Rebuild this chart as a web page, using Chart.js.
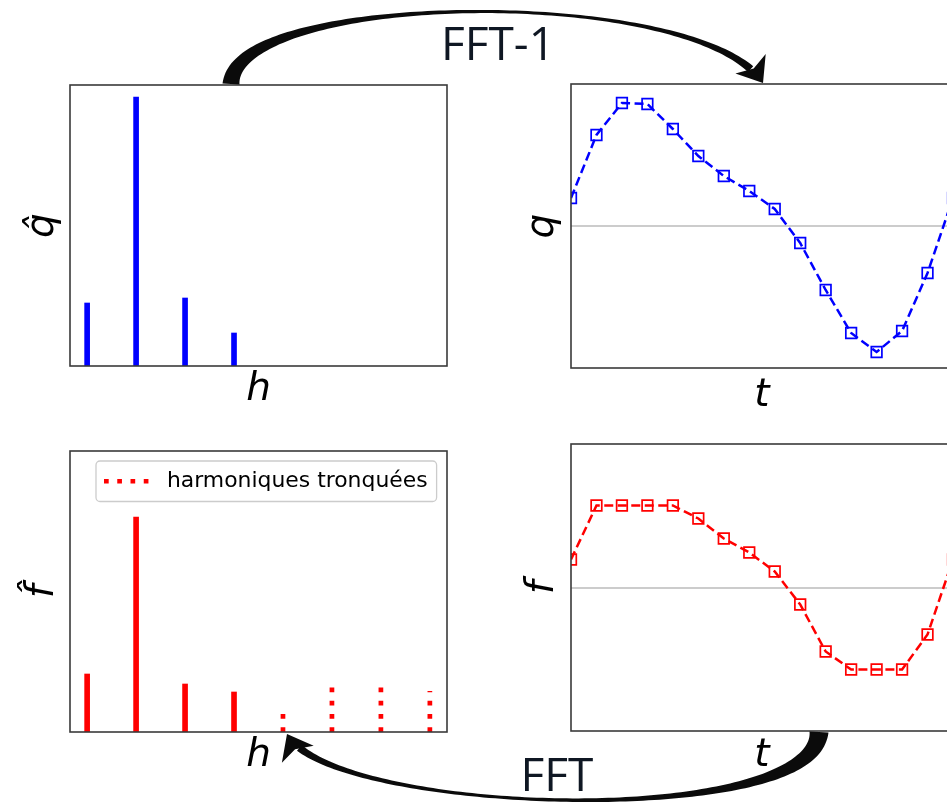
<!DOCTYPE html>
<html>
<head>
<meta charset="utf-8">
<title>FFT / FFT-1</title>
<script src="https://cdn.jsdelivr.net/npm/chart.js@4.4.1/dist/chart.umd.min.js"></script>
<style>
    html, body { margin: 0; padding: 0; background: #fff; overflow: hidden; }
    #stage { position: relative; width: 947px; height: 804px; overflow: hidden; }
    #stage canvas { position: absolute; left: 0; top: 0; }
</style>
</head>
<body>
<div id="stage">
    <canvas id="qhatChart" width="1000" height="804"></canvas>
    <canvas id="qChart" width="1000" height="804"></canvas>
    <canvas id="fhatChart" width="1000" height="804"></canvas>
    <canvas id="fChart" width="1000" height="804"></canvas>
</div>
<script>
// ========== DATA ==========
const harmonics = [0, 1, 2, 3, 4, 5, 6, 7];
const qHat = [0.63, 2.69, 0.68, 0.33];          // harmonics 0..3
const fHatKept = [0.58, 2.15, 0.48, 0.40];      // harmonics 0..3
const fHatTrunc = [0.18, 0.45, 0.45, 0.41];     // harmonics 4..7 (tronquées)
const timeSteps = [0, 1, 2, 3, 4, 5, 6, 7, 8, 9, 10, 11, 12, 13, 14, 15];
const qSignal = [0.28, 0.91, 1.23, 1.22, 0.97, 0.70, 0.50, 0.35, 0.17, -0.17, -0.64, -1.07, -1.26, -1.05, -0.47, 0.28];
const fSignal = [0.28, 0.82, 0.82, 0.82, 0.82, 0.69, 0.49, 0.35, 0.16, -0.17, -0.64, -0.82, -0.82, -0.82, -0.47, 0.28];

const specRange = [0, 2.81];
const hRange = [-0.35, 7.35];
const tRange = [0, 15];

// ========== LAYOUT ==========
const CW = 1000, CH = 804;
const TITLE_SIZE = 39, TITLE_LH = TITLE_SIZE * 1.2;

const boxes = {
    qhat: { l: 70, t: 85, r: 447, b: 366, ycx: 43, xcy: 390 },
    q:    { l: 571, t: 84, r: 953, b: 368, ycx: 543, xcy: 396 },
    fhat: { l: 70, t: 451, r: 447, b: 732, ycx: 43, xcy: 756 },
    f:    { l: 571, t: 444, r: 953, b: 731, ycx: 543, xcy: 756 }
};

function axisTitle(text) {
    return {
        display: true, text, color: "#000", padding: 0,
        font: { family: "DejaVu Sans", style: "italic", size: TITLE_SIZE, lineHeight: 1.2 }
    };
}

function padding(box) {
    return {
        left: box.ycx - TITLE_LH / 2,
        top: box.t,
        right: CW - box.r,
        bottom: CH - box.xcy - TITLE_LH / 2
    };
}

function scales(box, xRange, yRange, xLabel, yLabel, zeroLine) {
    return {
        x: {
            type: "linear", min: xRange[0], max: xRange[1], offset: false,
            ticks: { display: false },
            grid: { display: false, drawTicks: false },
            border: { display: false },
            title: axisTitle(xLabel),
            afterFit: s => { s.height = box.xcy - box.b + TITLE_LH / 2; }
        },
        y: {
            type: "linear", min: yRange[0], max: yRange[1],
            ticks: { display: false },
            grid: zeroLine
                ? { display: true, color: "#cccccc", lineWidth: 2, drawTicks: false }
                : { display: false, drawTicks: false },
            border: { display: false },
            title: axisTitle(yLabel),
            afterBuildTicks: s => { if (zeroLine) s.ticks = [{ value: 0 }]; },
            afterFit: s => { s.width = box.l - (box.ycx - TITLE_LH / 2); }
        }
    };
}

const framePlugin = {
    id: "frame",
    afterDatasetsDraw(chart) {
        const { ctx, chartArea: a } = chart;
        ctx.save();
        ctx.strokeStyle = "#3a3a3a";
        ctx.lineWidth = 1.6;
        ctx.strokeRect(a.left, a.top, a.right - a.left, a.bottom - a.top);
        ctx.restore();
    }
};

const baseOptions = {
    responsive: false,
    animation: false,
    devicePixelRatio: 1,
    events: []
};

// ========== SPECTRE q ==========
new Chart(document.getElementById("qhatChart"), {
    type: "bar",
    data: {
        datasets: [{
            data: qHat.map((v, i) => ({ x: harmonics[i], y: v })),
            backgroundColor: "#0000ff",
            barThickness: 5
        }]
    },
    options: {
        ...baseOptions,
        layout: { padding: padding(boxes.qhat) },
        plugins: { legend: { display: false }, tooltip: { enabled: false } },
        scales: scales(boxes.qhat, hRange, specRange, "h", "q\u0302", false)
    },
    plugins: [framePlugin]
});

// ========== SIGNAL q ==========
new Chart(document.getElementById("qChart"), {
    type: "line",
    data: {
        datasets: [{
            data: qSignal.map((v, i) => ({ x: timeSteps[i], y: v })),
            borderColor: "#0000ff",
            borderWidth: 2.5,
            borderDash: [9, 4.5],
            tension: 0,
            pointStyle: "rect",
            pointRadius: 7.5,
            pointBorderWidth: 1.7,
            pointBorderColor: "#0000ff",
            pointBackgroundColor: "rgba(0,0,0,0)"
        }]
    },
    options: {
        ...baseOptions,
        layout: { padding: padding(boxes.q) },
        plugins: { legend: { display: false }, tooltip: { enabled: false } },
        scales: scales(boxes.q, tRange, [-1.42, 1.42], "t", "q", true)
    },
    plugins: [framePlugin]
});

// ========== SPECTRE f ==========
const truncPoints = [];
fHatTrunc.forEach((v, i) => {
    const h = harmonics[i + 4];
    truncPoints.push({ x: h, y: 0 }, { x: h, y: v }, { x: h, y: null });
});

// legend sits inside the axes, upper right, with a matplotlib-like frame
const legendFramePlugin = {
    id: "legendFrame",
    afterLayout(chart) {
        const lg = chart.legend, a = chart.chartArea;
        lg.left = a.left + 14.7;
        lg.right = a.right;
        lg.top = a.top;
        lg.bottom = a.bottom;
    },
    beforeDraw(chart) {
        const hb = chart.legend.legendHitBoxes[0];
        if (!hb) return;
        const { ctx } = chart;
        ctx.save();
        ctx.beginPath();
        ctx.roundRect(hb.left - 8, hb.top - 9.3, hb.width + 17, hb.height + 18.6, 4);
        ctx.fillStyle = "rgba(255,255,255,0.8)";
        ctx.fill();
        ctx.strokeStyle = "#cccccc";
        ctx.lineWidth = 1.3;
        ctx.stroke();
        ctx.restore();
    }
};

new Chart(document.getElementById("fhatChart"), {
    type: "bar",
    data: {
        datasets: [
            {
                data: fHatKept.map((v, i) => ({ x: harmonics[i], y: v })),
                backgroundColor: "#ff0000",
                barThickness: 5
            },
            {
                type: "line",
                label: "harmoniques tronquées",
                data: truncPoints,
                borderColor: "#ff0000",
                borderWidth: 4.7,
                borderDash: [4.7, 8.55],
                borderCapStyle: "butt",
                spanGaps: false,
                pointRadius: 0
            }
        ]
    },
    options: {
        ...baseOptions,
        layout: { padding: padding(boxes.fhat) },
        plugins: {
            tooltip: { enabled: false },
            legend: {
                position: "chartArea",
                align: "start",
                labels: {
                    usePointStyle: true,
                    pointStyleWidth: 52,
                    padding: 19.3,
                    color: "#000",
                    font: { family: "DejaVu Sans", size: 21.9 },
                    generateLabels: chart => {
                        const ds = chart.data.datasets[1];
                        return [{
                            text: ds.label,
                            datasetIndex: 1,
                            hidden: false,
                            fontColor: "#000",
                            fillStyle: ds.borderColor,
                            strokeStyle: ds.borderColor,
                            lineWidth: ds.borderWidth,
                            lineDash: ds.borderDash,
                            lineCap: "butt",
                            pointStyle: "line",
                            rotation: 0
                        }];
                    }
                }
            }
        },
        scales: scales(boxes.fhat, hRange, specRange, "h", "f\u0302", false)
    },
    plugins: [framePlugin, legendFramePlugin]
});

// ========== SIGNAL f + FLECHES ==========
function drawArrow(ctx, P0, C1, C2, P3, tailW, endW, headLen, headHalf) {
    const bez = t => {
        const u = 1 - t;
        return [0, 1].map(k => u * u * u * P0[k] + 3 * u * u * t * C1[k] + 3 * u * t * t * C2[k] + t * t * t * P3[k]);
    };
    const der = t => {
        const u = 1 - t;
        return [0, 1].map(k => 3 * u * u * (C1[k] - P0[k]) + 6 * u * t * (C2[k] - C1[k]) + 3 * t * t * (P3[k] - C2[k]));
    };
    let tEnd = 1;
    for (let t = 1; t > 0; t -= 0.002) {
        const p = bez(t);
        if (Math.hypot(p[0] - P3[0], p[1] - P3[1]) >= headLen * 0.8) { tEnd = t; break; }
    }
    const left = [], right = [];
    const N = 120;
    for (let i = 0; i <= N; i++) {
        const t = tEnd * i / N;
        const p = bez(t), d = der(t);
        const len = Math.hypot(d[0], d[1]) || 1;
        const nx = -d[1] / len, ny = d[0] / len;
        const w = Math.max(1.8, tailW * Math.pow(1 - t, 3) + endW * Math.pow(t, 3)) / 2;
        left.push([p[0] + nx * w, p[1] + ny * w]);
        right.push([p[0] - nx * w, p[1] - ny * w]);
    }
    ctx.beginPath();
    left.forEach((p, i) => (i ? ctx.lineTo(p[0], p[1]) : ctx.moveTo(p[0], p[1])));
    right.reverse().forEach(p => ctx.lineTo(p[0], p[1]));
    ctx.closePath();
    ctx.fill();

    const d = der(1);
    const len = Math.hypot(d[0], d[1]);
    const ux = d[0] / len, uy = d[1] / len;
    const bx = P3[0] - ux * headLen, by = P3[1] - uy * headLen;
    ctx.beginPath();
    ctx.moveTo(P3[0], P3[1]);
    ctx.lineTo(bx - uy * headHalf, by + ux * headHalf);
    ctx.lineTo(bx + ux * headLen * 0.25, by + uy * headLen * 0.25);
    ctx.lineTo(bx + uy * headHalf, by - ux * headHalf);
    ctx.closePath();
    ctx.fill();
}

const arrowsPlugin = {
    id: "arrows",
    afterDraw(chart) {
        const ctx = chart.ctx;
        ctx.save();
        ctx.fillStyle = "#0b0b0b";
        drawArrow(ctx, [231, 84], [236, -10], [700, -15], [763, 83], 17, 9, 23, 18);
        drawArrow(ctx, [819, 732], [815, 830], [330, 815], [287, 734], 19, 9, 23, 18);
        ctx.fillStyle = "#0f1723";
        ctx.font = '46px "Open Sans"';
        ctx.textAlign = "center";
        ctx.textBaseline = "alphabetic";
        ctx.fillText("FFT-1", 498, 60);
        ctx.fillText("FFT", 557, 791);
        ctx.restore();
    }
};

new Chart(document.getElementById("fChart"), {
    type: "line",
    data: {
        datasets: [{
            data: fSignal.map((v, i) => ({ x: timeSteps[i], y: v })),
            borderColor: "#ff0000",
            borderWidth: 2.5,
            borderDash: [9, 4.5],
            tension: 0,
            pointStyle: "rect",
            pointRadius: 7.5,
            pointBorderWidth: 1.7,
            pointBorderColor: "#ff0000",
            pointBackgroundColor: "rgba(0,0,0,0)"
        }]
    },
    options: {
        ...baseOptions,
        layout: { padding: padding(boxes.f) },
        plugins: { legend: { display: false }, tooltip: { enabled: false } },
        scales: scales(boxes.f, tRange, [-1.435, 1.435], "t", "f", true)
    },
    plugins: [framePlugin, arrowsPlugin]
});
</script>
</body>
</html>
